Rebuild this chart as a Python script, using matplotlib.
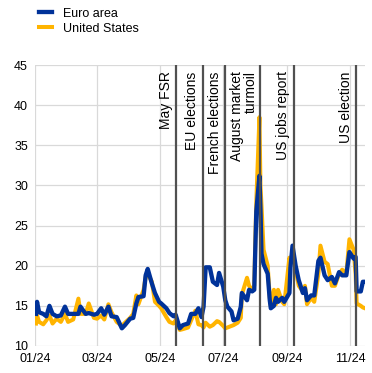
import pandas as pd
import matplotlib
matplotlib.use("Agg")
import matplotlib.pyplot as plt
import matplotlib.dates as mdates

plt.rcParams['font.family'] = ['Liberation Sans', 'DejaVu Sans']

# implied volatility readings (approx. from chart)
dates = ["2024-01-02", "2024-01-03", "2024-01-05", "2024-01-09", "2024-01-12", "2024-01-15",
         "2024-01-18", "2024-01-22", "2024-01-26", "2024-01-30", "2024-02-02", "2024-02-07",
         "2024-02-12", "2024-02-14", "2024-02-19", "2024-02-22", "2024-02-27", "2024-03-01",
         "2024-03-05", "2024-03-08", "2024-03-12", "2024-03-15", "2024-03-20", "2024-03-25",
         "2024-03-28", "2024-04-02", "2024-04-05", "2024-04-08", "2024-04-10", "2024-04-15",
         "2024-04-17", "2024-04-19", "2024-04-23", "2024-04-26", "2024-04-30", "2024-05-02",
         "2024-05-07", "2024-05-10", "2024-05-14", "2024-05-16", "2024-05-20", "2024-05-23",
         "2024-05-28", "2024-05-31", "2024-06-04", "2024-06-07", "2024-06-10", "2024-06-12",
         "2024-06-14", "2024-06-18", "2024-06-21", "2024-06-25", "2024-06-27", "2024-07-01",
         "2024-07-03", "2024-07-05", "2024-07-09", "2024-07-11", "2024-07-15", "2024-07-18",
         "2024-07-19", "2024-07-24", "2024-07-26", "2024-07-29", "2024-07-31", "2024-08-01",
         "2024-08-02", "2024-08-05", "2024-08-06", "2024-08-07", "2024-08-09", "2024-08-13",
         "2024-08-15", "2024-08-16", "2024-08-19", "2024-08-21", "2024-08-23", "2024-08-27",
         "2024-08-29", "2024-09-03", "2024-09-04", "2024-09-06", "2024-09-09", "2024-09-12",
         "2024-09-16", "2024-09-18", "2024-09-20", "2024-09-24", "2024-09-27", "2024-10-01",
         "2024-10-03", "2024-10-07", "2024-10-10", "2024-10-14", "2024-10-17", "2024-10-21",
         "2024-10-24", "2024-10-28", "2024-10-31", "2024-11-04", "2024-11-06", "2024-11-07",
         "2024-11-11", "2024-11-13", "2024-11-15"]

euro_area = [14.0, 15.5, 14.2, 14.0, 13.7, 15.0,
             14.0, 13.7, 13.8, 14.9, 14.0, 14.0,
             14.0, 14.9, 14.0, 14.1, 13.9, 14.0,
             14.7, 13.9, 14.9, 13.7, 13.6, 12.2,
             12.6, 13.4, 13.5, 15.3, 16.1, 16.2,
             18.8, 19.6, 17.8, 16.6, 15.5, 15.3,
             14.7, 14.1, 13.7, 13.9, 12.2, 12.6,
             12.8, 14.0, 14.0, 14.7, 13.6, 14.9,
             19.8, 19.8, 18.0, 17.6, 19.1, 17.4,
             15.7, 14.9, 14.3, 13.2, 13.4, 14.9,
             16.6, 15.7, 17.0, 16.8, 17.0, 22.0,
             26.8, 31.2, 27.0, 21.5, 20.2, 19.0,
             15.7, 14.7, 15.0, 16.0, 15.5, 16.0,
             15.5, 16.6, 19.8, 22.5, 20.0, 18.2,
             16.6, 17.2, 15.7, 16.3, 16.3, 20.6,
             21.0, 18.8, 18.2, 18.6, 17.8, 19.2,
             18.8, 18.8, 21.7, 20.9, 21.1, 16.8,
             16.8, 18.0, 18.0]

united_states = [12.8, 13.8, 13.0, 12.7, 13.2, 13.8,
                 12.8, 13.4, 13.0, 14.0, 13.0, 13.3,
                 15.9, 14.0, 14.0, 15.3, 13.5, 13.4,
                 13.8, 13.3, 15.2, 14.2, 13.0, 12.5,
                 12.9, 13.5, 14.0, 16.3, 15.2, 17.0,
                 18.6, 19.0, 18.0, 15.5, 15.0, 14.7,
                 13.6, 13.0, 12.8, 13.2, 12.0, 12.1,
                 12.3, 13.2, 14.4, 12.7, 12.6, 12.3,
                 12.9, 12.4, 12.6, 13.1, 13.0, 12.5,
                 12.2, 12.3, 12.5, 12.6, 12.9, 13.5,
                 16.4, 18.5, 17.5, 17.0, 17.5, 23.0,
                 28.0, 38.5, 30.0, 27.5, 22.0, 20.0,
                 16.0, 15.0, 17.0, 15.2, 17.0, 15.5,
                 15.2, 21.0, 20.5, 21.5, 19.5, 17.5,
                 16.8, 17.5, 15.2, 16.0, 15.5, 19.0,
                 22.5, 20.5, 20.2, 17.5, 17.5, 19.0,
                 19.5, 19.0, 23.3, 22.0, 19.0, 15.3,
                 15.0, 14.8, 14.7]

event_dates = ["2024-05-16", "2024-06-11", "2024-07-03", "2024-08-06", "2024-09-07", "2024-11-06"]
event_labels = ["May FSR", "EU elections", "French elections", "August market\nturmoil",
                "US jobs report", "US election"]

x = pd.to_datetime(dates)

fig = plt.figure(figsize=(3.72, 3.73), dpi=100)
ax = fig.add_axes([0.094, 0.0724, 0.887, 0.7533])

ax.plot(x, united_states, color='#FFB400', lw=2.9, solid_joinstyle='round', label='United States', zorder=3)
ax.plot(x, euro_area, color='#003299', lw=3.1, solid_joinstyle='round', label='Euro area', zorder=4)

for d, lab in zip(event_dates, event_labels):
    d = pd.Timestamp(d)
    ax.axvline(d, color='#505050', lw=1.6, zorder=5)
    ax.text(d - pd.Timedelta(days=3), 44.2, lab, rotation=90, ha='right', va='top',
            multialignment='right', fontsize=10, color='black', linespacing=0.9,
            clip_on=True)

ax.set_xlim(pd.Timestamp("2024-01-01"), pd.Timestamp("2024-11-15"))
ax.set_ylim(10, 45)
ax.set_yticks(range(10, 50, 5))
ax.xaxis.set_major_locator(mdates.MonthLocator(bymonth=[1, 3, 5, 7, 9, 11]))
ax.xaxis.set_major_formatter(mdates.DateFormatter('%m/%y'))
ax.tick_params(length=0, labelsize=9, pad=5)
ax.grid(color='#d9d9d9', lw=0.9)
ax.set_axisbelow(True)
for s in ax.spines.values():
    s.set_visible(False)

handles, labels = ax.get_legend_handles_labels()
fig.legend(handles[::-1], labels[::-1], loc='upper left', bbox_to_anchor=(0.075, 1.01),
           frameon=False, fontsize=9, handlelength=1.0, handletextpad=0.9,
           labelspacing=0.25)

fig.savefig("out.png", dpi=100)
